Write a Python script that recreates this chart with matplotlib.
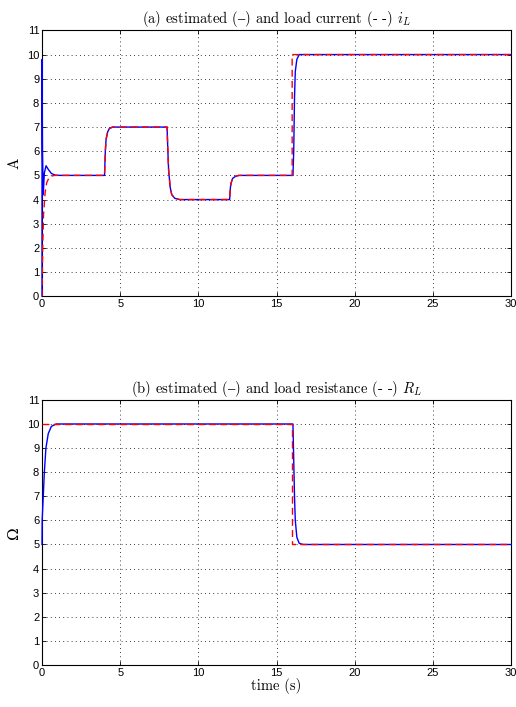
import matplotlib
matplotlib.use('Agg')
import matplotlib.pyplot as plt

# (a) load current
t_iL_est = [0, 0.005, 0.03, 0.08, 0.15, 0.26, 0.4, 0.6, 0.85, 1.2,
            4.0, 4.05, 4.1, 4.2, 4.3, 4.5,
            8.0, 8.05, 8.1, 8.2, 8.3, 8.5, 8.8,
            12.0, 12.05, 12.1, 12.2, 12.4, 12.6,
            16.05, 16.1, 16.15, 16.2, 16.3, 16.45, 30]
iL_est = [0, 9.8, 6.0, 4.2, 5.1, 5.4, 5.25, 5.08, 5.01, 5.0,
          5.0, 6.0, 6.5, 6.8, 6.93, 7.0,
          7.0, 6.0, 5.2, 4.5, 4.2, 4.05, 4.0,
          4.0, 4.5, 4.7, 4.88, 4.97, 5.0,
          5.0, 6.0, 8.2, 9.3, 9.8, 10.0, 10.0]

t_iL = [0, 0.05, 0.1, 0.2, 0.3, 0.45, 0.6, 0.8,
        4.0, 4.05, 4.1, 4.2, 4.3, 4.5,
        8.0, 8.05, 8.1, 8.2, 8.3, 8.5, 8.8,
        12.0, 12.05, 12.1, 12.2, 12.4, 12.6,
        16.0, 16.0, 30]
iL = [0, 2.2, 3.4, 4.3, 4.7, 4.9, 4.97, 5.0,
      5.0, 6.0, 6.5, 6.8, 6.93, 7.0,
      7.0, 6.0, 5.2, 4.5, 4.2, 4.05, 4.0,
      4.0, 4.5, 4.7, 4.88, 4.97, 5.0,
      5.0, 10.0, 10.0]

# (b) load resistance
t_RL_est = [0, 0.01, 0.08, 0.15, 0.25, 0.4, 0.6, 0.9,
            16.05, 16.1, 16.15, 16.2, 16.3, 16.45, 16.7, 30]
RL_est = [5.0, 6.0, 7.0, 8.0, 9.0, 9.6, 9.9, 10.0,
          10.0, 8.5, 7.0, 6.0, 5.3, 5.05, 5.0, 5.0]

t_RL = [0, 16.0, 16.0, 30]
RL = [10.0, 10.0, 5.0, 5.0]

xticks = [0, 5, 10, 15, 20, 25, 30]
yticks = list(range(0, 12))

plt.rcParams['mathtext.fontset'] = 'cm'
serif = ['cmr10', 'DejaVu Serif']

fig = plt.figure(figsize=(5.16, 7.07), dpi=100)
ax1 = fig.add_axes([0.0814, 0.581, 0.909, 0.376])
ax2 = fig.add_axes([0.0814, 0.0594, 0.909, 0.375])

panels = [
    (ax1, t_iL_est, iL_est, t_iL, iL,
     '(a) estimated ($\u2013$) and load current (- -) $i_L$', 'A'),
    (ax2, t_RL_est, RL_est, t_RL, RL,
     '(b) estimated ($\u2013$) and load resistance (- -) $R_L$', '\u03a9'),
]

for ax, te, ye, tl, yl, title, ylab in panels:
    ax.plot(te, ye, color='b', lw=1.0, zorder=3, clip_on=False)
    ax.plot(tl, yl, color='r', lw=1.0, ls=(0, (5, 3)), zorder=3)
    ax.set_xlim(0, 30)
    ax.set_ylim(0, 11)
    ax.set_xticks(xticks)
    ax.set_yticks(yticks)
    ax.grid(True, color='k', ls=(0, (1, 4)), lw=0.6)
    ax.tick_params(direction='in', length=3, width=0.6, labelsize=8,
                   top=True, right=True, pad=2)
    for lab in ax.get_xticklabels() + ax.get_yticklabels():
        lab.set_family('Liberation Sans')
    for sp in ax.spines.values():
        sp.set_linewidth(0.8)
    ax.set_title(title, family=serif, fontsize=10.5, pad=5)
    ax.set_ylabel(ylab, family=serif, fontsize=11, labelpad=4)

ax2.set_xlabel('time (s)', family=serif, fontsize=10.5, labelpad=0)

fig.savefig('out.png', dpi=100)
